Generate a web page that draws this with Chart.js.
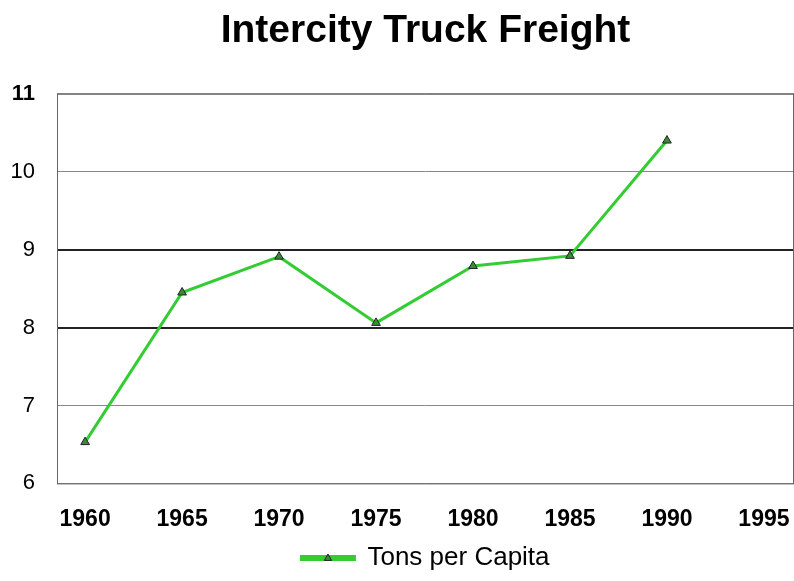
<!DOCTYPE html>
<html lang="en">
<head>
    <meta charset="UTF-8">
    <script src="https://cdn.jsdelivr.net/npm/chart.js"></script>
    <title>Intercity Truck Freight</title>
    <style>
        body {
            margin: 0;
            background-color: #fff;
        }
        #wrap {
            width: 794px;
            height: 581px;
        }
    </style>
</head>
<body>
    <div id="wrap"><canvas id="freightChart"></canvas></div>
    <script>
        const years = [1960, 1965, 1970, 1975, 1980, 1985, 1990];
        const tonsPerCapita = [6.53, 8.45, 8.91, 8.06, 8.79, 8.92, 10.40];
        const xTicks = [1960, 1965, 1970, 1975, 1980, 1985, 1990, 1995];
        const yTicks = [6, 7, 8, 9, 10, 11];

        const lineGreen = '#33cc33';

        function drawTriangle(ctx, x, y, r) {
            ctx.beginPath();
            ctx.moveTo(x, y - r);
            ctx.lineTo(x + r * 0.9, y + r * 0.6);
            ctx.lineTo(x - r * 0.9, y + r * 0.6);
            ctx.closePath();
            ctx.fill();
            ctx.stroke();
        }

        // box round the plot area + marker on the legend line
        const extras = {
            id: 'extras',
            afterDatasetsDraw(chart) {
                const a = chart.chartArea;
                const ctx = chart.ctx;
                ctx.save();
                ctx.strokeStyle = '#666';
                ctx.lineWidth = 1;
                ctx.strokeRect(a.left + 0.5, a.top + 0.5, a.right - a.left - 1, a.bottom - a.top);
                ctx.restore();
            },
            afterDraw(chart) {
                const hb = chart.legend && chart.legend.legendHitBoxes && chart.legend.legendHitBoxes[0];
                if (!hb) return;
                const bw = chart.legend.options.labels.boxWidth;
                const ctx = chart.ctx;
                ctx.save();
                ctx.fillStyle = '#3a8a3a';
                ctx.strokeStyle = '#222';
                ctx.lineWidth = 1;
                drawTriangle(ctx, hb.left + bw / 2, hb.top + hb.height / 2, 4);
                ctx.restore();
            }
        };

        const ctx = document.getElementById('freightChart').getContext('2d');
        new Chart(ctx, {
            type: 'line',
            data: {
                datasets: [{
                    label: 'Tons per Capita',
                    data: years.map((y, i) => ({ x: y, y: tonsPerCapita[i] })),
                    borderColor: lineGreen,
                    backgroundColor: lineGreen,
                    borderWidth: 3,
                    pointStyle: 'triangle',
                    pointRadius: 5,
                    pointBorderColor: '#222',
                    pointBorderWidth: 1,
                    pointBackgroundColor: '#3a8a3a',
                    tension: 0
                }]
            },
            options: {
                responsive: true,
                maintainAspectRatio: false,
                animation: false,
                layout: {
                    autoPadding: false,
                    padding: { left: 0, right: 0, top: 0, bottom: 0 }
                },
                scales: {
                    x: {
                        type: 'linear',
                        min: 1958.55,
                        max: 1996.55,
                        afterBuildTicks: axis => {
                            axis.ticks = xTicks.map(v => ({ value: v }));
                        },
                        afterFit: axis => {
                            axis.paddingLeft = 0;
                            axis.paddingRight = 0;
                            axis.height = axis.height - 10;
                        },
                        grid: { display: false, drawTicks: false },
                        border: { display: false },
                        ticks: {
                            color: '#000',
                            padding: 22,
                            maxRotation: 0,
                            font: { family: 'Liberation Sans', size: 23, weight: 'bold' },
                            callback: v => String(v)
                        }
                    },
                    y: {
                        min: 6,
                        max: 11,
                        afterBuildTicks: axis => {
                            axis.ticks = yTicks.map(v => ({ value: v }));
                        },
                        afterFit: axis => {
                            axis.width = 57;
                        },
                        grid: {
                            drawTicks: false,
                            color: c => (c.tick && (c.tick.value === 8 || c.tick.value === 9)) ? '#222' : '#888',
                            lineWidth: c => (c.tick && (c.tick.value === 8 || c.tick.value === 9)) ? 2 : 1
                        },
                        border: { display: false },
                        ticks: {
                            color: '#000',
                            padding: 22,
                            font: c => ({
                                family: 'Liberation Sans',
                                size: 22,
                                weight: (c.tick && c.tick.value === 11) ? 'bold' : 'normal'
                            })
                        }
                    }
                },
                plugins: {
                    title: {
                        display: true,
                        fullSize: false,
                        text: 'Intercity Truck Freight',
                        color: '#000',
                        font: { family: 'Liberation Sans', size: 39, weight: 'bold' },
                        padding: { top: 8, bottom: 39 }
                    },
                    legend: {
                        position: 'bottom',
                        fullSize: false,
                        labels: {
                            color: '#000',
                            font: { family: 'Liberation Sans', size: 26 },
                            boxWidth: 53,
                            boxHeight: 3,
                            padding: 0
                        }
                    },
                    tooltip: { enabled: false }
                }
            },
            plugins: [extras]
        });
    </script>
</body>
</html>
